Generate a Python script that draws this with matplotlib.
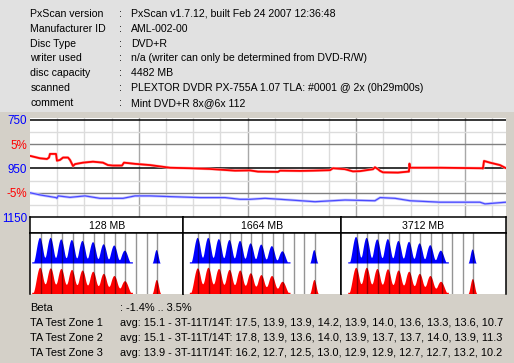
import matplotlib
matplotlib.use('Agg')
import matplotlib.pyplot as plt
import numpy as np

# ---------------- data ----------------
info_labels = ["PxScan version", "Manufacturer ID", "Disc Type", "writer used",
               "disc capacity", "scanned", "comment"]
info_values = ["PxScan v1.7.12, built Feb 24 2007 12:36:48",
               "AML-002-00",
               "DVD+R",
               "n/a (writer can only be determined from DVD-R/W)",
               "4482 MB",
               "PLEXTOR DVDR PX-755A 1.07 TLA: #0001 @ 2x (0h29m00s)",
               "Mint DVD+R 8x@6x 112"]

disc_mb = 4482

red_pos = [0, 94, 160, 179, 188, 245, 254, 282, 311, 358, 377, 405, 424, 499, 593,
           687, 734, 782, 866, 885, 989, 1130, 1318, 1507, 1695, 1930, 2072, 2147,
           2335, 2354, 2542, 2665, 2825, 2853, 2966, 3041, 3107, 3230, 3248, 3277,
           3296, 3324, 3465, 3559, 3568, 3573, 3578, 3861, 4256, 4265, 4275, 4331,
           4425, 4482]
red_val = [898, 908, 911, 905, 890, 890, 918, 915, 905, 905, 915, 940, 932, 926, 922,
           926, 936, 938, 938, 926, 931, 936, 947, 949, 952, 959, 958, 963,
           964, 959, 960, 959, 957, 949, 953, 962, 961, 953, 945, 953,
           960, 966, 967, 963, 963, 930, 947, 947, 949, 950, 919, 926,
           936, 949]

blue_pos = [0, 94, 245, 254, 264, 377, 518, 659, 876, 989, 1130, 1318, 1601, 1836,
            1977, 2072, 2213, 2354, 2684, 2966, 3248, 3296, 3437, 3578, 3861, 4237,
            4284, 4482]
blue_val = [1050, 1059, 1070, 1073, 1063, 1069, 1063, 1073, 1073, 1063, 1063, 1066,
            1070, 1070, 1077, 1077, 1073, 1077, 1087, 1080, 1083, 1070, 1073, 1083,
            1089, 1089, 1096, 1089]

y_ticks = [750, 850, 950, 1050, 1150]
y_tick_labels = ["750", "5%", "950", "-5%", "1150"]

ta_zones = ["128 MB", "1664 MB", "3712 MB"]
ta_T = [3, 4, 5, 6, 7, 8, 9, 10, 11, 14]
ta_blue = [[0.84, 0.84, 0.79, 0.77, 0.74, 0.70, 0.63, 0.59, 0.42, 0.44],
           [0.84, 0.84, 0.80, 0.77, 0.74, 0.66, 0.62, 0.57, 0.40, 0.44],
           [0.87, 0.84, 0.79, 0.80, 0.74, 0.71, 0.66, 0.60, 0.42, 0.46]]
ta_red = [[0.86, 0.84, 0.82, 0.79, 0.77, 0.73, 0.66, 0.59, 0.42, 0.46],
          [0.84, 0.86, 0.82, 0.79, 0.77, 0.68, 0.62, 0.59, 0.40, 0.46],
          [0.86, 0.86, 0.82, 0.81, 0.77, 0.73, 0.66, 0.59, 0.40, 0.49]]
ta_lines = [3, 4, 5, 6, 7, 8, 9, 10, 11, 12, 13, 14]

bottom_labels = ["Beta", "TA Test Zone 1", "TA Test Zone 2", "TA Test Zone 3"]
bottom_values = [": -1.4% .. 3.5%",
                 "avg: 15.1 - 3T-11T/14T: 17.5, 13.9, 13.9, 14.2, 13.9, 14.0, 13.6, 13.3, 13.6, 10.7",
                 "avg: 15.1 - 3T-11T/14T: 17.8, 13.9, 13.6, 14.0, 13.9, 13.7, 13.7, 14.0, 13.9, 11.3",
                 "avg: 13.9 - 3T-11T/14T: 16.2, 12.7, 12.5, 13.0, 12.9, 12.9, 12.7, 12.7, 13.2, 10.2"]

# ---------------- layout ----------------
W, H = 514, 363
FONT = "Liberation Sans"
FS = 7.6
FS_BOTTOM = 7.9
BLUE_TXT = "#0000ff"
RED_TXT = "#ff0000"

fig = plt.figure(figsize=(W / 100, H / 100), dpi=100, facecolor="#d4d0c8")


def fx(x):
    return x / W


def fy(y):
    return 1 - y / H


def add_ax(x0, y0, x1, y1):
    return fig.add_axes([x0 / W, 1 - y1 / H, (x1 - x0) / W, (y1 - y0) / H])


# top info panel
top = add_ax(0, 0, W, 112)
top.set_facecolor("#e1e1e1")
top.set_xticks([]); top.set_yticks([])
for s in top.spines.values():
    s.set_visible(False)

for i, (lab, val) in enumerate(zip(info_labels, info_values)):
    yb = 16.7 + 14.93 * i
    fig.text(fx(30.5), fy(yb), lab, fontsize=FS, family=FONT, va="baseline", ha="left")
    fig.text(fx(119.5), fy(yb), ":", fontsize=FS, family=FONT, va="baseline", ha="left")
    fig.text(fx(131), fy(yb), val, fontsize=FS, family=FONT, va="baseline", ha="left")

# line plot
ax = add_ax(30, 118, 506, 217)
ax.set_facecolor("white")
ax.set_xlim(0, disc_mb)
ax.set_ylim(1150, 742)
for s in ax.spines.values():
    s.set_visible(False)
for k in range(1, 18):
    xv = 256 * k
    if xv >= disc_mb:
        break
    ax.axvline(xv, color="#a8a8a8" if k % 4 == 0 else "#dcdcdc", lw=1, zorder=1)
for yv in [800, 1000, 1100]:
    ax.axhline(yv, color="#dcdcdc", lw=1, zorder=1)
for yv in [850, 1050]:
    ax.axhline(yv, color="#808080", lw=1, zorder=2)
for yv in [750, 950]:
    ax.axhline(yv, color="black", lw=1.1, zorder=2)

ax.plot(blue_pos, blue_val, color="#c4c4ff", lw=2.0, zorder=3, solid_capstyle="butt")
ax.plot(blue_pos, blue_val, color="#4a4aff", lw=0.9, zorder=4)
ax.plot(red_pos, red_val, color="#ffb0b0", lw=2.0, zorder=5, solid_capstyle="butt")
ax.plot(red_pos, red_val, color="#ff0000", lw=1.3, zorder=6)

ax.set_xticks([])
ax.set_yticks(y_ticks)
ax.set_yticklabels(y_tick_labels, family=FONT, fontsize=8.4)
for lbl, c in zip(ax.get_yticklabels(), [BLUE_TXT, RED_TXT, BLUE_TXT, RED_TXT, BLUE_TXT]):
    lbl.set_color(c)
ax.tick_params(axis="y", length=0, pad=2)

# TA section
panel_x = [30, 183.3, 341, 505.7]
t3_px = [40.7, 198.3, 356.7]
t_px = 10.6
half_w_blue = [0.64] * 9 + [0.4]
half_w_red = [0.7] * 9 + [0.42]


def bump(t, c, w):
    u = np.clip((t - c) / w, -1, 1)
    return np.cos(np.pi * u / 2) ** 2


for p in range(3):
    x0, x1 = panel_x[p], panel_x[p + 1]
    hd = add_ax(x0, 217, x1, 233)
    hd.set_facecolor("white")
    hd.set_xticks([]); hd.set_yticks([])
    for s in hd.spines.values():
        s.set_color("black"); s.set_linewidth(1.1)
    hd.text(0.5, 0.22, ta_zones[p], transform=hd.transAxes, ha="center", va="baseline",
            fontsize=FS, family=FONT)

    hx = add_ax(x0, 233, x1, 294)
    hx.set_facecolor("white")
    lo = 3 - (t3_px[p] - x0) / t_px
    hi = 3 + (x1 - t3_px[p]) / t_px
    hx.set_xlim(lo, hi)
    hx.set_ylim(0, 2.0)
    hx.set_xticks([]); hx.set_yticks([])
    for name, s in hx.spines.items():
        s.set_color("black"); s.set_linewidth(1.1)
        if name == "bottom":
            s.set_visible(False)
    t = np.linspace(lo, hi, 2000)
    b = np.zeros_like(t)
    r = np.zeros_like(t)
    for T, hb, hr, wb, wr in zip(ta_T, ta_blue[p], ta_red[p], half_w_blue, half_w_red):
        b += hb * bump(t, T - 0.06, wb)
        r += hr * bump(t, T - 0.04, wr)
    floor_mask = (t > ta_T[0] - 0.8) & (t < ta_T[8] + 0.7)
    b = np.where(floor_mask, np.maximum(b, 0.04), b)
    r = np.where(floor_mask, np.maximum(r, 0.04), r)
    hx.fill_between(t, 1.0, 1.0 + b, where=b > 0.005, color="#0000ff", lw=0, zorder=2)
    hx.fill_between(t, 0.0, r, where=r > 0.005, color="#ff0000", lw=0, zorder=2)
    for T in ta_lines:
        hx.axvline(T, color="black", alpha=0.42, lw=1, zorder=3)

# bottom text
for i, (lab, val) in enumerate(zip(bottom_labels, bottom_values)):
    yb = 310.7 + 15.0 * i
    fig.text(fx(30.5), fy(yb), lab, fontsize=FS_BOTTOM, family=FONT, va="baseline", ha="left")
    fig.text(fx(120.3), fy(yb), val, fontsize=FS_BOTTOM, family=FONT, va="baseline", ha="left")

fig.savefig("out.png", dpi=100, facecolor=fig.get_facecolor())
